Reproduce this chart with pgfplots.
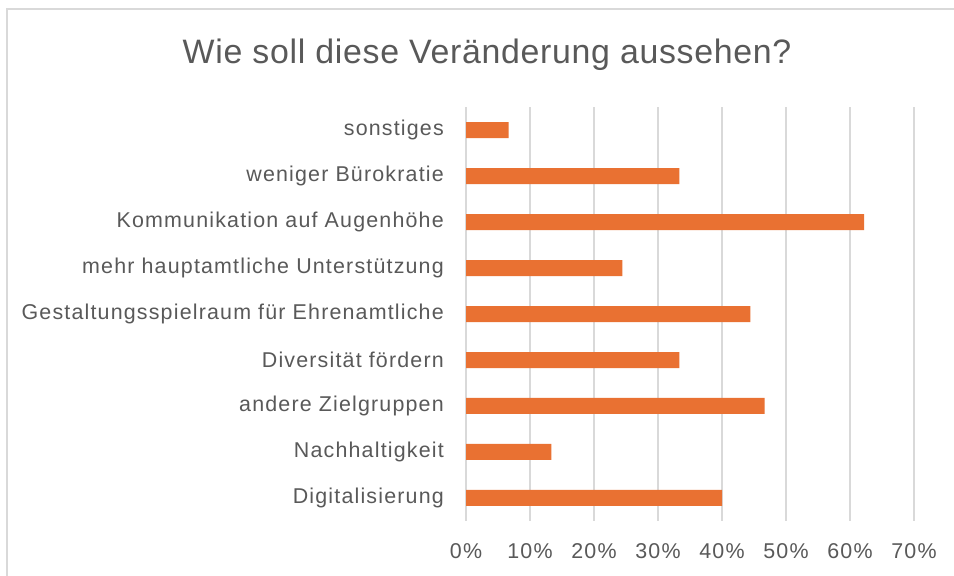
\documentclass[border=0pt]{standalone}
\usepackage{pgfplots}
\pgfplotsset{compat=1.18}
\usepackage{fontspec}
\setmainfont{Liberation Sans}
\newfontfamily\labfont[LetterSpace=5.5]{Liberation Sans}
\newfontfamily\titlefont[LetterSpace=2]{Liberation Sans}
\definecolor{txtgray}{HTML}{595959}
\definecolor{gridgray}{HTML}{D9D9D9}
\definecolor{barorange}{HTML}{E97132}
\begin{document}
\begin{tikzpicture}
\useasboundingbox (0,0) rectangle (954bp,576bp);
\fill[white] (0,0) rectangle (954bp,576bp);
\draw[gridgray, line width=1.5bp] (7bp,0) -- (7bp,567bp) -- (960bp,567bp);
\node[txtgray, font={\titlefont\fontsize{34}{40}\selectfont}] at (487bp,521bp) {Wie soll diese Veränderung aussehen?};
\begin{axis}[
  at={(466bp,55bp)}, anchor=south west,
  scale only axis, width=448bp, height=414bp,
  xmin=0, xmax=70, ymin=-0.5, ymax=8.5,
  axis line style={draw=none},
  major tick length=0pt,
  xmajorgrids, grid style={gridgray, line width=1.5bp},
  xtick={0,10,20,30,40,50,60,70},
  xticklabels={0\%,10\%,20\%,30\%,40\%,50\%,60\%,70\%},
  ytick={0,1,2,3,4,5,6,7,8},
  yticklabels={Digitalisierung,Nachhaltigkeit,andere Zielgruppen,Diversität fördern,Gestaltungsspielraum für Ehrenamtliche,mehr hauptamtliche Unterstützung,Kommunikation auf Augenhöhe,weniger Bürokratie,sonstiges},
  /pgf/number format/assume math mode=true,
  ticklabel style={txtgray, font={\labfont\fontsize{21.5}{25}\selectfont}},
  xticklabel style={anchor=center, inner sep=0pt, yshift=-30bp},
  yticklabel style={anchor=east, inner sep=0pt, xshift=-22bp},
  xbar, bar width=16bp,
  clip=false,
]
\addplot[fill=barorange, draw=none] coordinates {
  (40.00,0) (13.33,1) (46.67,2) (33.33,3) (44.44,4) (24.44,5) (62.22,6) (33.33,7) (6.67,8)
};
\end{axis}
\end{tikzpicture}
\end{document}
